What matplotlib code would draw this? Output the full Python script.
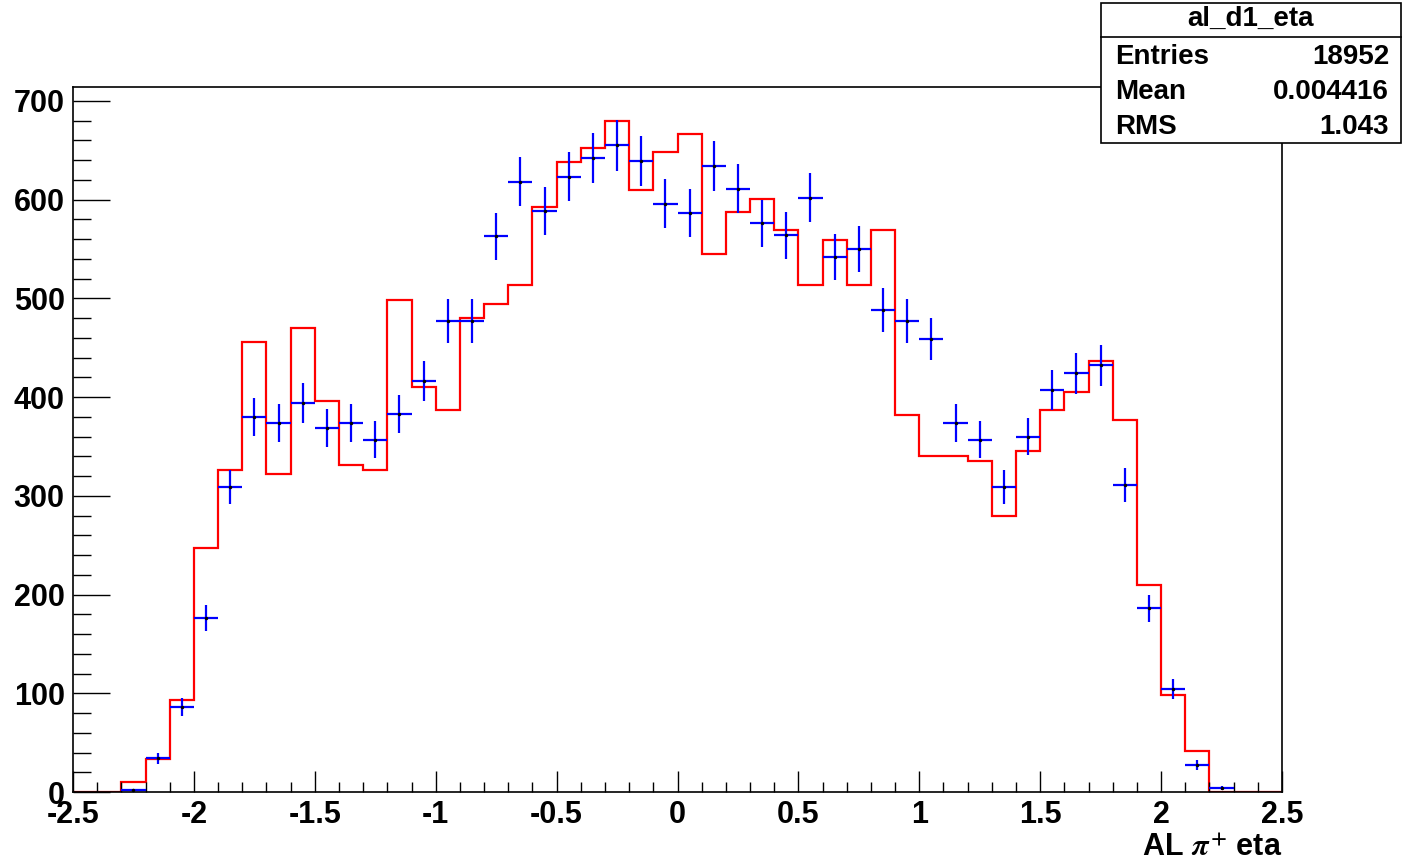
import numpy as np
import matplotlib
matplotlib.use("Agg")
import matplotlib.pyplot as plt
from matplotlib.patches import Rectangle
from matplotlib.lines import Line2D
from matplotlib.ticker import MultipleLocator, FuncFormatter

plt.rcParams['font.family'] = ['Liberation Sans', 'DejaVu Sans']
plt.rcParams['font.weight'] = 'bold'
plt.rcParams['mathtext.fontset'] = 'stix'

# 50 bins from -2.5 to 2.5
bin_edges = np.linspace(-2.5, 2.5, 51)

# red histogram (simulation)
sim_counts = [0, 0, 10, 33, 93, 247, 326, 456, 322, 470,
              396, 331, 326, 498, 410, 387, 480, 494, 513, 592,
              638, 652, 680, 610, 648, 666, 545, 587, 601, 569,
              513, 559, 513, 569, 382, 340, 340, 335, 280, 345,
              387, 405, 437, 377, 210, 98, 42, 0, 0, 0]

# blue points (data), error bars are sqrt(N) as drawn by ROOT
data_counts = [0, 0, 2, 34, 86, 176, 309, 380, 374, 394,
               369, 374, 357, 383, 416, 477, 477, 563, 618, 588,
               623, 642, 655, 639, 596, 586, 634, 611, 576, 564,
               602, 542, 550, 488, 477, 459, 374, 357, 309, 360,
               407, 424, 432, 311, 186, 104, 27, 4, 0, 0]

stats_title = "al_d1_eta"
stats_rows = [("Entries", "18952"), ("Mean", "0.004416"), ("RMS", "1.043")]

fig = plt.figure(figsize=(14.02, 8.64), dpi=100)
W, H = 1402, 864
ax = fig.add_axes([73 / W, 1 - 792 / H, 1209 / W, (792 - 87) / H])

ax.stairs(sim_counts, bin_edges, color='red', linewidth=1.6)

centers = 0.5 * (bin_edges[:-1] + bin_edges[1:])
data = np.array(data_counts, dtype=float)
mask = data > 0
ax.errorbar(centers[mask], data[mask], xerr=0.05, yerr=np.sqrt(data[mask]),
            fmt='none', ecolor='blue', elinewidth=1.6, capsize=0)
ax.plot(centers[mask], data[mask], 'o', color='black', markersize=1.5)

ax.set_xlim(-2.5, 2.5)
ax.set_ylim(0, 714)
ax.xaxis.set_major_locator(MultipleLocator(0.5))
ax.xaxis.set_minor_locator(MultipleLocator(0.1))
ax.yaxis.set_major_locator(MultipleLocator(100))
ax.yaxis.set_minor_locator(MultipleLocator(20))
ax.xaxis.set_major_formatter(FuncFormatter(lambda v, p: f"{v:g}"))

ax.tick_params(axis='both', which='both', direction='in', width=1.0,
               labelsize=22, top=False, right=False)
ax.tick_params(axis='x', which='major', length=15, pad=6)
ax.tick_params(axis='x', which='minor', length=7.5)
ax.tick_params(axis='y', which='major', length=26.5, pad=6)
ax.tick_params(axis='y', which='minor', length=13)
for lab in ax.get_xticklabels() + ax.get_yticklabels():
    lab.set_fontweight('bold')
for s in ax.spines.values():
    s.set_linewidth(1.2)

fig.text(1282 / W, 1 - 848 / H, r"AL $\pi^{\mathbf{+}}$ eta", ha='right', va='center',
         fontsize=22, fontweight='bold')

# stats box
fig.patches.append(Rectangle((1101 / W, 1 - 143 / H), 300 / W, 140 / H,
                             transform=fig.transFigure, facecolor='white',
                             edgecolor='black', linewidth=1.2, zorder=5))
fig.lines.append(Line2D([1101 / W, 1401 / W], [1 - 37 / H, 1 - 37 / H],
                        transform=fig.transFigure, color='black', linewidth=1.2, zorder=6))
fig.text(1251 / W, 1 - 19 / H, stats_title, ha='center', va='center',
         fontsize=20, fontweight='bold', zorder=7)
for i, (name, val) in enumerate(stats_rows):
    yy = 1 - (57 + 35 * i) / H
    fig.text(1115 / W, yy, name, ha='left', va='center', fontsize=20, fontweight='bold', zorder=7)
    fig.text(1389 / W, yy, val, ha='right', va='center', fontsize=20, fontweight='bold', zorder=7)

fig.savefig("out.png", dpi=100)
